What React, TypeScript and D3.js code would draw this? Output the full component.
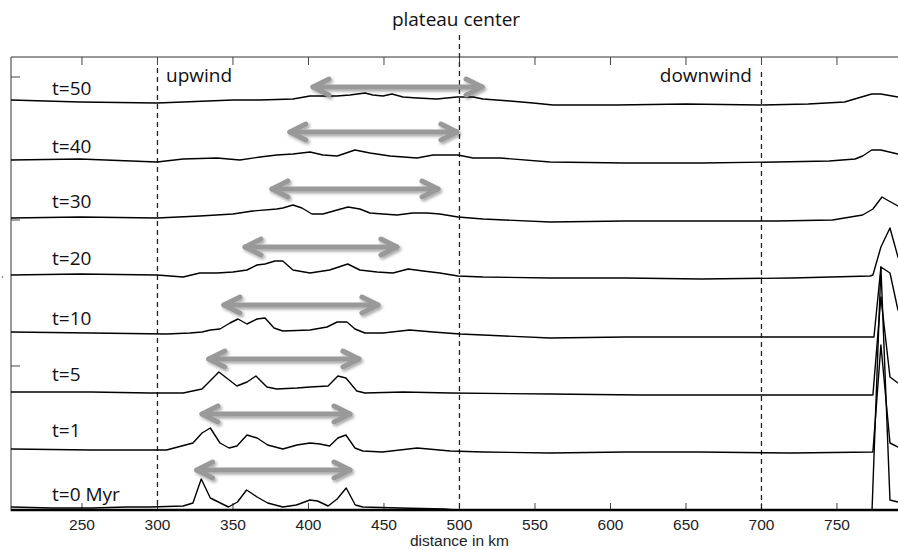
import * as d3 from 'd3';

// distance ticks (km)
const xTicks = [250, 300, 350, 400, 450, 500, 550, 600, 650, 700, 750];
// unlabelled ticks on the left frame
const yTicks = [141, 287, 430];

const timeLabels = ['t=0 Myr', 't=1', 't=5', 't=10', 't=20', 't=30', 't=40', 't=50'];
// vertical offset of each stacked profile
const offsets = [0, 58, 115, 173, 231, 289, 347, 405];

// [distance km, relief above the profile's own base]
const t0: [number, number][] = [
  [203, 0], [230, -1], [257, -1], [280, 0], [295, 0], [317, 1], [323.5, 4], [329, 28], [335, 9],
  [347, 0], [353, 5], [359, 17], [366, 10], [373, 4], [383, 0], [392, 2], [401, 7], [406, 6],
  [413, 1], [419, 8], [425, 19], [431, 2], [436, 0], [460, -1], [490, -2], [505, -4], [520, -4],
  [530, -3], [545, -4], [773.2, -4], [779.1, 240], [785.1, 7], [790.4, 5], [800, 4],
];
const t1: [number, number][] = [
  [203, 0], [256, -1], [306, -1], [323.5, 6], [329.5, 16], [335, 21], [341.4, 6], [347.4, 1],
  [352.6, 3], [359.3, 14], [366, 11], [373, 4], [383, 0], [392.4, 4], [401, 6], [407.6, 5],
  [414, 3], [419.5, 11], [424.8, 14], [430.8, 1], [436, -2], [449, -3], [472, 1], [494, -2],
  [516, -3], [560, -4], [610, -3], [659, -3], [720, -4], [773.8, -3], [779.1, 104], [785.1, 6],
  [790.4, 2], [800, 1],
];
const t5: [number, number][] = [
  [203, 0], [256, 0], [295, -1], [317, -1], [329.5, 3], [340.7, 20], [352.6, 6], [359.3, 10],
  [365.2, 16], [372.5, 5], [379, 3], [392.4, 4], [401, 5], [413, 6], [419.5, 16], [424.8, 14],
  [432, 1], [437.4, -1], [462.6, 0], [494, -1], [560, -2], [620, -3], [659, -3], [720, -3],
  [773.8, -3], [779.1, 95], [785.1, 15], [790.4, 9], [800, 8],
];
const t10: [number, number][] = [
  [203, 2], [256, 1], [306, 0], [321.5, 1], [329.5, 2], [335, 4], [341.4, 5], [348, 11],
  [353.3, 15], [359.3, 10], [365.9, 15], [371.2, 16], [377.2, 6], [383, 3], [401, 4],
  [412.3, 7], [419, 12], [425.5, 12], [430.8, 5], [437.4, 1], [449.3, 1], [467, 4], [482.5, 2],
  [500.3, 0], [515.6, -1], [560, -4], [610, -3], [660, -3], [720, -3], [774.5, -3],
  [779.1, 67], [785.1, 61], [790.4, 24], [800, 10],
];
const t20: [number, number][] = [
  [203, 1], [248.7, 2], [299.7, 1], [317, -1], [328, 3], [339.4, 3], [350, 4], [359.3, 6],
  [365.9, 11], [371.2, 12], [377.8, 15], [383, 15], [389.7, 6], [401, 3], [414, 6], [426, 12],
  [434, 6], [445.4, 4], [456, 3], [466, 7], [476, 5], [487, 3], [499, 0], [515.6, -1],
  [560, -2], [610, -2], [660, -3], [720, -2], [771.9, 0], [773.8, 1], [779.1, 29], [785.1, 48],
  [790.4, 19], [800, 0],
];
const t30: [number, number][] = [
  [203, 0], [248.7, 1], [299.7, 0], [328, 2], [350, 4], [363, 7], [379, 9], [383, 10],
  [389.7, 13], [395.7, 10], [402.3, 4], [409.6, 4], [419, 8], [426.2, 11], [434, 9], [440.7, 5],
  [449.3, 4], [458.6, 3], [469, 5], [478.5, 5], [487, 4], [499, 1], [515.6, -1], [560, -4],
  [610, -3], [660, -3], [710, -3], [747, -2], [767, 3], [773.8, 9], [779.8, 21], [784.4, 17],
  [790.4, 12], [800, 8],
];
const t40: [number, number][] = [
  [203, 0], [248.7, 1], [299.7, -2], [317, 1], [339.4, 2], [354.6, 0], [368, 3], [379, 5],
  [389.7, 6], [401, 8], [409.6, 5], [419, 4], [430.8, 10], [440.7, 7], [454, 4], [471.9, 2],
  [482.5, 5], [499, 5], [509, 2], [526.8, 2], [560, -2], [610, -3], [660, -3], [710, -2],
  [745, -1], [762, 1], [767, 4], [773, 10], [779, 10], [790.4, 6], [800, 5],
];
const t50: [number, number][] = [
  [203, 2], [248.7, 0], [299.7, -1], [317, 0], [350, 2], [368, 2], [389.7, 3], [401, 6],
  [418.9, 6], [427.5, 7], [437.4, 9], [442.7, 7], [449.3, 6], [455.3, 8], [462.6, 5], [472, 4],
  [485, 3], [498.3, 5], [509, 5], [515.6, 3], [533.4, 1], [548.7, -1], [562, -3], [604, -3],
  [650, -2], [699, -3], [731, -2], [755, 0], [773, 8], [779, 8], [790.4, 5], [800, 5],
];
const profiles = [t0, t1, t5, t10, t20, t30, t40, t50];

// extent of the grey double arrows (km) and their level
const arrowFrom = [326, 329.5, 334, 344, 358, 375.8, 387.7, 403];
const arrowTo = [427.5, 427.5, 433.4, 446, 458.6, 485.8, 498.3, 515];
const arrowLevel = [37, 93, 148, 202, 260, 318, 375, 420];

// dashed reference lines
const markers = [300, 500, 700];

const W = 898;
const H = 550;
const plotLeft = 11;
const plotTop = 57;
const plotBottom = 511;
const labelLift = [6, 12, 11, 9, 11, 10, 7, 7];
const markerTops = [68, 35, 72];

export default function App() {
  const x = d3.scaleLinear().domain([203, 800]).range([plotLeft, plotLeft + 597 * 1.51]);
  const y = d3.scaleLinear().domain([-4, 450]).range([plotBottom, plotTop]);

  const lineFor = (off: number) =>
    d3
      .line<[number, number]>()
      .x((d) => x(d[0]))
      .y((d) => y(off + d[1]));

  const tickFont = '"Liberation Sans", Arial, sans-serif';
  const labelFont = '"Open Sans", "Noto Sans", sans-serif';

  return (
    <svg
      width={W}
      height={H}
      viewBox={`0 0 ${W} ${H}`}
      style={{ position: 'absolute', left: 0, top: 0, background: '#fff' }}
    >
      <defs>
        <clipPath id="plot">
          <rect x={plotLeft} y={plotTop} width={W - plotLeft} height={plotBottom - plotTop - 1} />
        </clipPath>
        <filter id="shadow" x="-10%" y="-50%" width="120%" height="200%">
          <feDropShadow dx="1.5" dy="2" stdDeviation="1.4" floodColor="#000" floodOpacity="0.35" />
        </filter>
      </defs>
      <rect x={0} y={0} width={W} height={H} fill="#fff" />

      {/* frame */}
      <line x1={plotLeft} x2={W} y1={plotTop} y2={plotTop} stroke="#333" strokeWidth={1} />
      <line x1={plotLeft} x2={plotLeft} y1={plotTop} y2={plotBottom} stroke="#333" strokeWidth={1} />

      {xTicks.map((t) => (
        <g key={t}>
          <line x1={x(t)} x2={x(t)} y1={plotTop} y2={plotTop + 8} stroke="#444" />
          <line x1={x(t)} x2={x(t)} y1={plotBottom} y2={plotBottom - 8} stroke="#444" />
          <text
            x={x(t)}
            y={530}
            textAnchor="middle"
            fontFamily={tickFont}
            fontSize={15.5}
            fill="#222"
          >
            {t}
          </text>
        </g>
      ))}
      {yTicks.map((t) => (
        <line key={t} x1={plotLeft} x2={plotLeft + 9} y1={y(t)} y2={y(t)} stroke="#444" />
      ))}
      <circle cx={2.5} cy={277} r={0.8} fill="#555" />

      {/* dashed lines */}
      {markers.map((m, i) => (
        <line
          key={m}
          x1={x(m)}
          x2={x(m)}
          y1={markerTops[i]}
          y2={plotBottom}
          stroke="#222"
          strokeWidth={1.3}
          strokeDasharray="5,4"
        />
      ))}

      {/* profiles */}
      <g clipPath="url(#plot)">
        {profiles.map((p, i) => (
          <path
            key={i}
            d={lineFor(offsets[i])(p) || ''}
            fill="none"
            stroke="#000"
            strokeWidth={1.4}
            strokeLinejoin="round"
          />
        ))}
      </g>

      {/* arrows */}
      <g filter="url(#shadow)" stroke="#999" strokeWidth={5} strokeLinecap="round" fill="none">
        {arrowFrom.map((a, i) => {
          const x0 = x(a);
          const x1 = x(arrowTo[i]);
          const yy = y(arrowLevel[i]);
          return (
            <g key={i}>
              <line x1={x0} x2={x1} y1={yy} y2={yy} />
              <polyline points={`${x0 + 16},${yy - 8} ${x0},${yy} ${x0 + 16},${yy + 8}`} strokeLinejoin="round" />
              <polyline points={`${x1 - 16},${yy - 8} ${x1},${yy} ${x1 - 16},${yy + 8}`} strokeLinejoin="round" />
            </g>
          );
        })}
      </g>

      {/* labels */}
      {timeLabels.map((l, i) => (
        <text
          key={l}
          x={52}
          y={y(offsets[i]) - labelLift[i]}
          fontFamily={labelFont}
          fontSize={19}
          fill="#111"
        >
          {l}
        </text>
      ))}
      <text x={166} y={82} fontFamily={labelFont} fontSize={19} fill="#111">
        upwind
      </text>
      <text x={752} y={82} textAnchor="end" fontFamily={labelFont} fontSize={19} fill="#111">
        downwind
      </text>
      <text x={456} y={26} textAnchor="middle" fontFamily={labelFont} fontSize={19} fill="#111">
        plateau center
      </text>

      <line x1={plotLeft} x2={W} y1={plotBottom - 1} y2={plotBottom - 1} stroke="#000" strokeWidth={2.5} />
      <text x={x(500)} y={546} textAnchor="middle" fontFamily={tickFont} fontSize={15.5} fill="#222">
        distance in km
      </text>
    </svg>
  );
}
